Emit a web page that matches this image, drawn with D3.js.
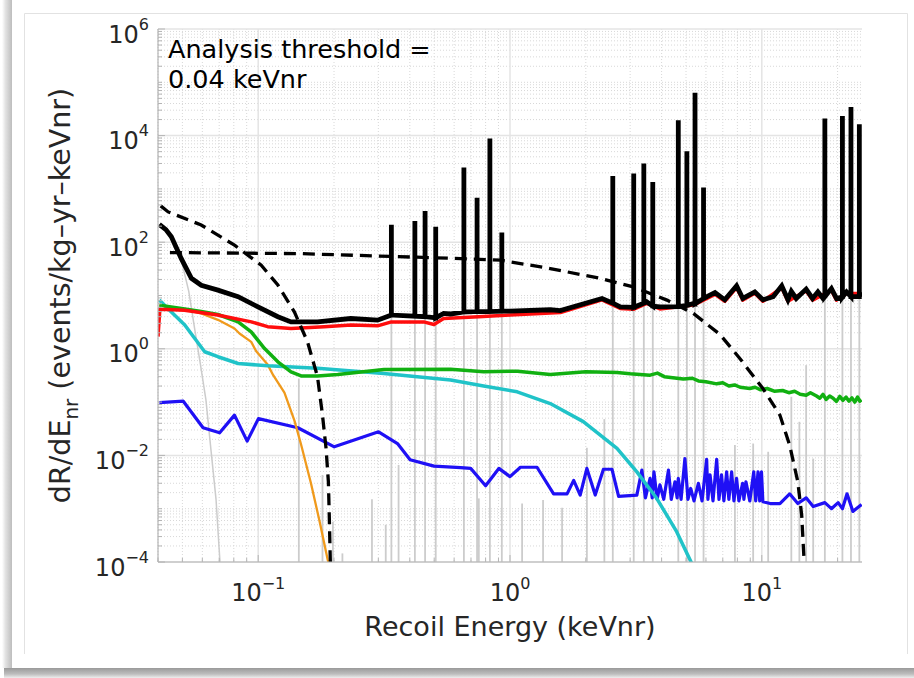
<!DOCTYPE html>
<html>
<head>
<meta charset="utf-8">
<script src="https://cdn.jsdelivr.net/npm/d3@7"></script>
<style>
  html, body { margin: 0; padding: 0; background: #ffffff; }
  svg { display: block; font-family: "DejaVu Sans", sans-serif; }
</style>
</head>
<body>
<div id="chart"></div>
<script>
// ---- data: [recoil energy keVnr, dR/dE] ----
const xDomain = [0.04, 25];
const yDomain = [1e-4, 1e6];
const xTickExps = [-1, 0, 1];
const yTickExps = [-4, -2, 0, 2, 4, 6];

const titleLines = ["Analysis threshold =", "0.04 keVnr"];
const xLabel = "Recoil Energy (keVnr)";

const totalBase = [
  [0.0405, 215], [0.043, 172], [0.0452, 126], [0.0495, 49], [0.0543, 21], [0.0594, 15.6],
  [0.0692, 12.6], [0.0832, 9.5], [0.0998, 6.1], [0.1197, 4.0], [0.135, 3.2], [0.172, 3.2],
  [0.233, 3.7], [0.298, 3.45], [0.545, 4.6], [0.581, 4.5], [1.0, 5.1], [1.445, 5.4],
  [1.585, 5.2], [2.32, 8.8], [2.74, 6.1], [3.49, 7.6], [3.94, 6.1], [5.35, 7.1], [6.52, 11.4],
  [7.13, 8.3], [7.94, 15.2], [8.41, 8.8], [9.38, 11.7], [10.1, 8.3], [11.1, 9.5],
  [12.0, 15.2], [12.7, 8.3], [13.1, 12.0], [13.7, 8.8], [15.0, 13.2], [15.9, 8.8],
  [16.7, 11.7], [17.5, 8.8], [18.9, 13.5], [19.8, 8.8], [21.7, 11.7], [24.8, 11.7]
];
// [energy, base level, peak]
const totalSpikes = [
  [0.338, 4.3, 212], [0.419, 4.1, 251], [0.460, 4.0, 387], [0.507, 3.8, 195],
  [0.656, 4.9, 2520], [0.740, 5.0, 680], [0.832, 5.0, 8870], [0.928, 5.1, 152],
  [2.56, 7.2, 1740], [3.10, 6.0, 1950], [3.40, 7.2, 3000], [3.69, 6.3, 1350],
  [4.66, 6.2, 19500], [5.04, 6.5, 5100], [5.43, 7.0, 64000], [5.87, 8.8, 1060],
  [17.8, 9.5, 21000], [20.9, 9.3, 23300], [22.6, 9.5, 34500], [24.4, 9.5, 16400]
];

const redSeries = [
  [0.04, 1.7], [0.0407, 5.6], [0.041, 5.5], [0.051, 5.3], [0.069, 4.3], [0.094, 3.2],
  [0.109, 2.6], [0.135, 2.4], [0.183, 2.6], [0.234, 2.8], [0.298, 2.7], [0.338, 3.2],
  [0.454, 3.2], [0.499, 2.86], [0.545, 3.7], [0.75, 4.0], [1.0, 4.3], [1.585, 4.8],
  [2.32, 8.3], [2.74, 5.7], [3.09, 5.5], [3.49, 7.1], [3.94, 5.6], [5.35, 6.6],
  [6.52, 10.5], [7.13, 7.8], [7.94, 14.0], [8.41, 8.2], [9.38, 11.0], [10.1, 7.8],
  [12.0, 14.0], [12.7, 7.8], [15.0, 12.3], [15.9, 8.2], [18.9, 12.5], [19.8, 8.2],
  [21.7, 10.9], [24.8, 10.9]
];

const greenSeries = [
  [0.0405, 6.6], [0.0511, 5.6], [0.0594, 5.0], [0.0692, 4.4], [0.0832, 3.2], [0.0938, 2.08],
  [0.106, 1.01], [0.1197, 0.57], [0.135, 0.37], [0.148, 0.31], [0.172, 0.31], [0.207, 0.33],
  [0.316, 0.41], [0.581, 0.415], [0.786, 0.37], [1.07, 0.38], [1.445, 0.33], [2.0, 0.37],
  [2.66, 0.36], [3.0, 0.34], [3.6, 0.32], [3.85, 0.35], [4.1, 0.30], [4.88, 0.27], [5.3, 0.28],
  [5.6, 0.25], [6.0, 0.24], [6.62, 0.22], [7.0, 0.23], [7.4, 0.20], [7.8, 0.21],
  [8.2, 0.19], [8.96, 0.18], [9.4, 0.19], [9.9, 0.17], [10.5, 0.18], [11.2, 0.16],
  [12.1, 0.165], [12.8, 0.15], [13.5, 0.16], [14.2, 0.14], [15.0, 0.135], [15.6, 0.15],
  [16.5, 0.13], [17.0, 0.118], [17.5, 0.14], [18.0, 0.112], [18.6, 0.13], [19.2, 0.118],
  [19.8, 0.103], [20.4, 0.128], [21.0, 0.108], [21.6, 0.124], [22.2, 0.104], [22.8, 0.12],
  [23.4, 0.10], [24.0, 0.124], [24.5, 0.104], [24.9, 0.11]
];

const cyanSeries = [
  [0.0405, 8.2], [0.0452, 4.9], [0.0511, 2.8], [0.056, 1.56], [0.0613, 0.88], [0.0692, 0.71],
  [0.0832, 0.53], [0.1092, 0.48], [0.172, 0.43], [0.3155, 0.345], [0.581, 0.26], [0.786, 0.20],
  [1.068, 0.156], [1.445, 0.094], [1.955, 0.043], [2.66, 0.0135], [3.19, 0.0049],
  [3.83, 0.00155], [4.59, 3.7e-4], [5.27, 9.4e-5]
];

const orangeSeries = [
  [0.0405, 6.5], [0.051, 5.5], [0.0594, 4.6], [0.0692, 3.5], [0.0805, 2.4], [0.0843, 1.94],
  [0.0938, 1.35], [0.0982, 0.9], [0.1092, 0.5], [0.1147, 0.32], [0.1271, 0.15],
  [0.1393, 0.045], [0.148, 0.016], [0.162, 0.003], [0.175, 6e-4], [0.1888, 1.1e-4], [0.191, 9e-5]
];

const blueSeries = [
  [0.0405, 0.098], [0.0504, 0.104], [0.0604, 0.033], [0.0703, 0.0265], [0.0805, 0.057],
  [0.0904, 0.0185], [0.1002, 0.049], [0.1437, 0.033], [0.2005, 0.0145], [0.3006, 0.0277],
  [0.3574, 0.0167], [0.401, 0.0083], [0.499, 0.0063], [0.637, 0.0059], [0.698, 0.0057],
  [0.80, 0.0027], [0.903, 0.0057], [1.0, 0.0040], [1.10, 0.006], [1.28, 0.006],
  [1.49, 0.0019], [1.685, 0.0019], [1.79, 0.0034], [1.90, 0.0018], [2.02, 0.0057],
  [2.18, 0.0018], [2.35, 0.0055], [2.54, 0.0055], [2.70, 0.0017], [3.19, 0.0018],
  [3.34, 0.0053], [3.45, 0.0016], [3.60, 0.0037], [3.67, 0.0016], [3.73, 0.0049],
  [3.84, 0.0015], [3.94, 0.0028], [4.08, 0.0015], [4.26, 0.0053], [4.37, 0.0015],
  [4.52, 0.0032], [4.61, 0.0016], [4.66, 0.0037], [4.78, 0.0015], [4.95, 0.0087],
  [5.09, 0.0015], [5.22, 0.0024], [5.38, 0.0014], [5.60, 0.0030], [5.79, 0.0014],
  [6.04, 0.0084], [6.11, 0.0015], [6.23, 0.0043], [6.40, 0.0014], [6.62, 0.0084],
  [6.76, 0.0015], [6.92, 0.0043], [7.07, 0.0014], [7.25, 0.0049], [7.40, 0.0015],
  [7.59, 0.0049], [7.75, 0.0014], [7.94, 0.0037], [8.11, 0.0014], [8.39, 0.0030],
  [8.49, 0.0015], [8.65, 0.0032], [8.96, 0.0014], [9.29, 0.0049], [9.46, 0.0014],
  [9.66, 0.0049], [9.81, 0.0014], [9.97, 0.0049], [10.1, 0.00135], [10.8, 0.00125],
  [11.8, 0.00125], [12.9, 0.0019], [13.9, 0.00125], [15.0, 0.0016], [16.0, 0.0011],
  [17.8, 0.0013], [18.9, 0.001], [20.1, 0.0013], [20.9, 0.001], [21.8, 0.0019],
  [23.0, 0.00089], [24.9, 0.0012]
];

const grayCurve = [
  [0.0405, 215], [0.0452, 130], [0.0485, 70], [0.0530, 12], [0.0560, 2.3], [0.0590, 0.5],
  [0.0620, 0.11], [0.0650, 0.012], [0.0680, 0.0015], [0.0705, 1e-4]
];
// thin gray lines: [energy, peak]
const grayLines = [
  [0.145, 0.277], [0.180, 0.0043], [0.198, 5.7e-4], [0.216, 1.45e-4], [0.283, 0.0015],
  [0.321, 5e-4], [0.361, 0.0066], [0.752, 0.00156], [1.117, 0.00125], [1.353, 0.00145],
  [1.61, 0.00104], [2.02, 0.0139], [2.37, 0.048], [7.82, 0.0156], [9.24, 0.0167],
  [10.6, 0.0117], [13.1, 0.126], [14.1, 0.0427], [15.0, 0.494], [16.0, 0.0087]
];

const dashedA = [
  [0.041, 480], [0.0439, 370], [0.0594, 210], [0.0805, 88], [0.1028, 37], [0.1197, 15.7],
  [0.1393, 4.9], [0.157, 1.35], [0.172, 0.3], [0.180, 0.057], [0.186, 0.0135],
  [0.190, 0.0032], [0.1915, 7.6e-4], [0.1935, 9e-5]
];
const dashedB = [
  [0.0446, 64], [0.148, 61], [0.58, 50], [0.92, 46], [1.445, 32], [2.28, 21], [3.09, 14.5],
  [4.20, 8.2], [5.35, 4.6], [6.82, 1.86], [8.18, 0.66], [10.1, 0.18], [11.8, 0.057],
  [12.9, 0.0156], [13.9, 0.0032], [14.4, 7.6e-4], [14.75, 9e-5]
];

class RateChart {
    constructor(selector) {
        this.selector = selector;
        this.width = 914;
        this.height = 678;
        this.plot = { left: 158, right: 862, top: 29, bottom: 562 };
    }

    createCanvas() {
        const svg = d3.select(this.selector).append("svg")
            .attr("width", this.width)
            .attr("height", this.height);

        const defs = svg.append("defs");
        const left = defs.append("linearGradient").attr("id", "shadowLeft")
            .attr("x1", "0").attr("x2", "1").attr("y1", "0").attr("y2", "0");
        left.append("stop").attr("offset", "0").attr("stop-color", "#ffffff");
        left.append("stop").attr("offset", "0.35").attr("stop-color", "#e2e2e2");
        left.append("stop").attr("offset", "1").attr("stop-color", "#bdbdbd");
        const bottom = defs.append("linearGradient").attr("id", "shadowBottom")
            .attr("x1", "0").attr("x2", "0").attr("y1", "0").attr("y2", "1");
        bottom.append("stop").attr("offset", "0").attr("stop-color", "#9a9a9a");
        bottom.append("stop").attr("offset", "0.6").attr("stop-color", "#bdbdbd");
        bottom.append("stop").attr("offset", "1").attr("stop-color", "#eeeeee");
        defs.append("clipPath").attr("id", "plotClip").append("rect")
            .attr("x", this.plot.left).attr("y", this.plot.top)
            .attr("width", this.plot.right - this.plot.left)
            .attr("height", this.plot.bottom - this.plot.top);

        // card look of the screenshot
        svg.append("rect").attr("x", 0).attr("y", 0).attr("width", this.width).attr("height", this.height)
            .attr("fill", "#ffffff");
        svg.append("rect").attr("x", 2).attr("y", 0).attr("width", 10).attr("height", 668)
            .attr("fill", "url(#shadowLeft)");
        svg.append("rect").attr("x", 4).attr("y", 668).attr("width", this.width - 4).attr("height", 10)
            .attr("fill", "url(#shadowBottom)");
        svg.append("path")
            .attr("d", "M24.5,654 V13.5 H907.5 V654")
            .attr("fill", "none").attr("stroke", "#e2e2e2").attr("stroke-width", 1);
        return svg;
    }

    createScales() {
        this.x = d3.scaleLog().domain(xDomain).range([this.plot.left, this.plot.right]);
        this.y = d3.scaleLog().domain(yDomain).range([this.plot.bottom, this.plot.top]);
    }

    minorValues(domain) {
        const out = [];
        const lo = Math.floor(Math.log10(domain[0]));
        const hi = Math.ceil(Math.log10(domain[1]));
        for (let e = lo; e <= hi; e++) {
            for (let m = 1; m <= 9; m++) {
                const v = m * Math.pow(10, e);
                if (v >= domain[0] * 0.999 && v <= domain[1] * 1.001) out.push(v);
            }
        }
        return out;
    }

    isMajor(v, majors) {
        return majors.some(m => Math.abs(m - v) < m * 1e-6);
    }

    renderGrid(svg) {
        const g = svg.append("g");
        const p = this.plot;
        const xMajor = xTickExps.map(e => Math.pow(10, e));
        const yMajor = yTickExps.map(e => Math.pow(10, e));
        const xMinor = this.minorValues(xDomain).filter(v => !this.isMajor(v, xMajor));
        const yMinor = this.minorValues(yDomain).filter(v => !this.isMajor(v, yMajor));

        g.selectAll(".xminor").data(xMinor).enter().append("line")
            .attr("x1", d => this.x(d)).attr("x2", d => this.x(d))
            .attr("y1", p.top).attr("y2", p.bottom)
            .attr("stroke", "#d8d8d8").attr("stroke-width", 1).attr("stroke-dasharray", "1,2");
        g.selectAll(".yminor").data(yMinor).enter().append("line")
            .attr("x1", p.left).attr("x2", p.right)
            .attr("y1", d => this.y(d)).attr("y2", d => this.y(d))
            .attr("stroke", "#d8d8d8").attr("stroke-width", 1).attr("stroke-dasharray", "1,2");
        g.selectAll(".xmajor").data(xMajor).enter().append("line")
            .attr("x1", d => this.x(d)).attr("x2", d => this.x(d))
            .attr("y1", p.top).attr("y2", p.bottom)
            .attr("stroke", "#e4e4e4").attr("stroke-width", 1.5);
        g.selectAll(".ymajor").data(yMajor).enter().append("line")
            .attr("x1", p.left).attr("x2", p.right)
            .attr("y1", d => this.y(d)).attr("y2", d => this.y(d))
            .attr("stroke", "#e4e4e4").attr("stroke-width", 1.5);
    }

    renderAxes(svg) {
        const p = this.plot;
        const g = svg.append("g");
        const axisColor = "#b4b4b4";
        g.append("line").attr("x1", p.left).attr("x2", p.left).attr("y1", p.top).attr("y2", p.bottom)
            .attr("stroke", axisColor).attr("stroke-width", 1.2);
        g.append("line").attr("x1", p.left).attr("x2", p.right).attr("y1", p.bottom).attr("y2", p.bottom)
            .attr("stroke", axisColor).attr("stroke-width", 1.2);

        const xMajor = xTickExps.map(e => Math.pow(10, e));
        const yMajor = yTickExps.map(e => Math.pow(10, e));
        g.selectAll(".xt").data(this.minorValues(xDomain)).enter().append("line")
            .attr("x1", d => this.x(d)).attr("x2", d => this.x(d))
            .attr("y1", p.bottom)
            .attr("y2", d => p.bottom - (this.isMajor(d, xMajor) ? 7 : 4))
            .attr("stroke", axisColor);
        g.selectAll(".yt").data(this.minorValues(yDomain)).enter().append("line")
            .attr("y1", d => this.y(d)).attr("y2", d => this.y(d))
            .attr("x1", p.left)
            .attr("x2", d => p.left + (this.isMajor(d, yMajor) ? 7 : 4))
            .attr("stroke", axisColor);

        const fmtExp = e => (e < 0 ? "\u2212" + (-e) : String(e));

        const xl = g.selectAll(".xl").data(xTickExps).enter().append("text")
            .attr("x", d => this.x(Math.pow(10, d)))
            .attr("y", 601)
            .attr("text-anchor", "middle")
            .attr("fill", "#262626")
            .style("font-size", "24px");
        xl.append("tspan").text("10");
        xl.append("tspan").attr("dy", -12).style("font-size", "16px").text(d => fmtExp(d));

        const yl = g.selectAll(".yl").data(yTickExps).enter().append("text")
            .attr("x", 149)
            .attr("y", d => this.y(Math.pow(10, d)) + 13.5)
            .attr("text-anchor", "end")
            .attr("fill", "#262626")
            .style("font-size", "24px");
        yl.append("tspan").text("10");
        yl.append("tspan").attr("dy", -13).style("font-size", "16px").text(d => fmtExp(d));

        // axis titles
        svg.append("text")
            .attr("x", (p.left + p.right) / 2).attr("y", 636)
            .attr("text-anchor", "middle").attr("fill", "#262626")
            .style("font-size", "27px")
            .text(xLabel);

        const ylab = svg.append("text")
            .attr("transform", "translate(70," + ((p.top + p.bottom) / 2) + ") rotate(-90)")
            .attr("text-anchor", "middle").attr("fill", "#262626")
            .style("font-size", "28.5px");
        ylab.append("tspan").text("dR/dE");
        ylab.append("tspan").attr("dy", 8).style("font-size", "20px").text("nr");
        ylab.append("tspan").attr("dy", -8).text(" (events/kg\u2013yr\u2013keVnr)");
    }

    line() {
        return d3.line().x(d => this.x(d[0])).y(d => this.y(d[1]));
    }

    renderSeries(svg) {
        const g = svg.append("g").attr("clip-path", "url(#plotClip)");
        const line = this.line();
        const bottomValue = yDomain[0];

        // thin gray component lines
        const grayAll = grayLines.concat(totalSpikes.map(s => [s[0], s[1]]));
        g.selectAll(".gv").data(grayAll).enter().append("line")
            .attr("x1", d => this.x(d[0])).attr("x2", d => this.x(d[0]))
            .attr("y1", this.y(bottomValue)).attr("y2", d => this.y(d[1]))
            .attr("stroke", "#cccccc").attr("stroke-width", 1.8);
        g.append("path").datum(grayCurve).attr("d", line)
            .attr("fill", "none").attr("stroke", "#cccccc").attr("stroke-width", 1.5);

        const styled = [
            [blueSeries, "#1f10f5", 3.2],
            [orangeSeries, "#f09a1c", 2.3],
            [cyanSeries, "#20c3c8", 3.5],
            [greenSeries, "#11b011", 3.5],
            [redSeries, "#ff0d0d", 3.5]
        ];
        for (const [data, color, w] of styled) {
            g.append("path").datum(data).attr("d", line)
                .attr("fill", "none").attr("stroke", color).attr("stroke-width", w)
                .attr("stroke-linejoin", "round");
        }

        // total rate with line spikes
        const spikePts = totalSpikes.flatMap(s => [[s[0], s[1]], [s[0], s[2]], [s[0], s[1]]]);
        const total = totalBase.concat(spikePts).sort((a, b) => a[0] - b[0]);
        g.append("path").datum(total).attr("d", line)
            .attr("fill", "none").attr("stroke", "#000000").attr("stroke-width", 4.8)
            .attr("stroke-linejoin", "miter");

        for (const data of [dashedA, dashedB]) {
            g.append("path").datum(data).attr("d", line)
                .attr("fill", "none").attr("stroke", "#000000").attr("stroke-width", 3.3)
                .attr("stroke-dasharray", "12,7");
        }
    }

    renderTitle(svg) {
        svg.selectAll(".title").data(titleLines).enter().append("text")
            .attr("x", 168).attr("y", (d, i) => 58 + i * 30)
            .attr("fill", "#000000")
            .style("font-size", "25.5px")
            .text(d => d);
    }

    build() {
        const svg = this.createCanvas();
        this.createScales();
        this.renderGrid(svg);
        this.renderSeries(svg);
        this.renderAxes(svg);
        this.renderTitle(svg);
    }
}

new RateChart("#chart").build();
</script>
</body>
</html>
